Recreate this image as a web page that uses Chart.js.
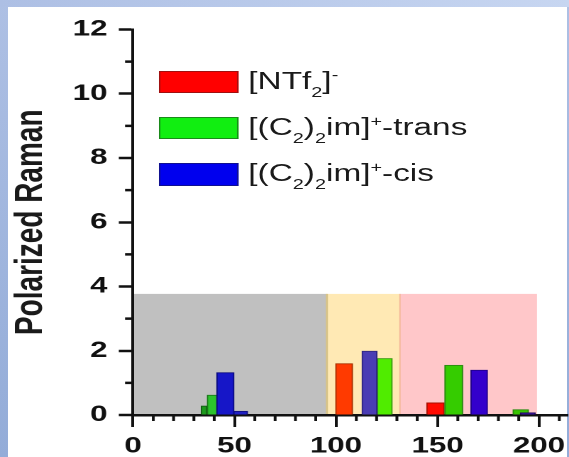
<!DOCTYPE html>
<html>
<head>
<meta charset="utf-8">
<script src="https://cdn.jsdelivr.net/npm/chart.js@4.4.1/dist/chart.umd.min.js"></script>
<style>
html,body{margin:0;padding:0;}
body{width:569px;height:457px;overflow:hidden;position:relative;background:linear-gradient(to bottom,#aec0e4,#93acd8);}
#topstrip{position:absolute;left:0;top:0;width:569px;height:7px;background:linear-gradient(to right,#adbfe4,#c7d6f1);}
#panel{position:absolute;left:8px;top:7px;width:559px;height:450px;background:#fff;}
#stage{position:absolute;left:0;top:0;width:401px;height:457px;transform:scaleX(1.41895);transform-origin:0 0;}
#chartbox{position:absolute;left:0;top:0;width:401px;height:457px;}
.leg{position:absolute;left:112.3px;width:56px;height:22.6px;box-sizing:border-box;border:1px solid;}
.lt{position:absolute;left:175px;font-family:'Liberation Sans',Arial,sans-serif;font-size:23.5px;color:#1a1a1a;line-height:23px;white-space:nowrap;}
.lt .sb{position:relative;top:8px;font-size:14px;}
.lt .sp{position:relative;top:-9px;font-size:14px;}
</style>
</head>
<body>
<div id="topstrip"></div>
<div id="panel"></div>
<div id="stage">
  <div id="chartbox"><canvas id="c"></canvas></div>
  <div id="legend"></div>
</div>
<script>
// ---- data ----
const seriesNames = [
  '[NTf<span class="sb">2</span>]<span class="sp">-</span>',
  '[(C<span class="sb">2</span>)<span class="sb">2</span>im]<span class="sp">+</span>-trans',
  '[(C<span class="sb">2</span>)<span class="sb">2</span>im]<span class="sp">+</span>-cis'
];
const ntf2X = [104, 149];
const ntf2Y = [1.6, 0.38];
const transX = [35, 39, 124, 158, 191];
const transY = [0.28, 0.62, 1.76, 1.55, 0.17];
const cisX = [45.5, 53, 116.5, 170.5, 194.5];
const cisY = [1.32, 0.12, 1.99, 1.4, 0.07];
const regionEdges = [0, 95.5, 131.5, 199];
const regionTop = 3.77;
const xLabelValues = [0, 50, 100, 150, 200];
const yLabelValues = [0, 2, 4, 6, 8, 10, 12];
const yTitle = 'Polarized Raman';

// ---- styles ----
const ntf2Fill = ['#ff3a00', '#ff0a00'];
const ntf2Edge = ['#a83000', '#a81000'];
const ntf2W = [12, 12.4];
const transFill = ['#1d9a1d', '#2cc42c', '#50ec00', '#35cc00', '#38c400'];
const transEdge = ['#156015', '#1a7a1a', '#3a9a10', '#2a8a10', '#2a8a10'];
const transW = [4, 7, 10.6, 12.7, 11];
const cisFill = ['#1616c8', '#2020c4', '#4a3cb4', '#3300cc', '#36109a'];
const cisEdge = ['#0c0c80', '#101080', '#302680', '#20008a', '#200860'];
const cisW = [12.2, 9.9, 10.6, 11.8, 10.6];
const legendFill = ['#ff0000', '#11ee11', '#0000ee'];
const legendEdge = ['#a01010', '#1a8a1a', '#101090'];
const regionFill = ['#c0c0c0', '#ffe9b4', '#ffc7c9'];
const FONT = "'Liberation Sans', Arial, sans-serif";

// legend (HTML, real text)
const legend = document.getElementById('legend');
seriesNames.forEach((n, i) => {
  const top = 70.7 + i * 46.2;
  const b = document.createElement('div');
  b.className = 'leg';
  b.style.top = top + 'px';
  b.style.background = legendFill[i];
  b.style.borderColor = legendEdge[i];
  legend.appendChild(b);
  const t = document.createElement('div');
  t.className = 'lt';
  t.style.top = (top - 0.9) + 'px';
  t.innerHTML = n;
  legend.appendChild(t);
});

// datasets: one per bar so each has its own width
const datasets = [];
function addSeries(xs, ys, fills, edges, widths, order) {
  xs.forEach((x, i) => {
    datasets.push({
      data: [{x: x, y: ys[i]}],
      backgroundColor: fills[i],
      borderColor: edges[i],
      borderWidth: 1,
      barThickness: widths[i],
      grouped: false,
      order: order
    });
  });
}
addSeries(ntf2X, ntf2Y, ntf2Fill, ntf2Edge, ntf2W, 2);
addSeries(transX, transY, transFill, transEdge, transW, 1);
addSeries(cisX, cisY, cisFill, cisEdge, cisW, 0);

const regions = {
  id: 'regions',
  beforeDraw(chart) {
    const {ctx, scales: {x, y}} = chart;
    const yt = y.getPixelForValue(regionTop);
    const yb = y.getPixelForValue(0);
    ctx.save();
    for (let i = 0; i < regionEdges.length - 1; i++) {
      const x0 = x.getPixelForValue(regionEdges[i]);
      const x1 = x.getPixelForValue(regionEdges[i + 1]);
      ctx.fillStyle = regionFill[i];
      ctx.fillRect(x0, yt, x1 - x0, yb - yt);
    }
    const a = x.getPixelForValue(regionEdges[1]);
    const b = x.getPixelForValue(regionEdges[2]);
    ctx.lineWidth = 1.5;
    ctx.strokeStyle = '#d8c488';
    ctx.beginPath(); ctx.moveTo(a, yt); ctx.lineTo(a, yb); ctx.stroke();
    ctx.lineWidth = 1;
    ctx.strokeStyle = '#f4b89a';
    ctx.beginPath(); ctx.moveTo(b, yt); ctx.lineTo(b, yb); ctx.stroke();
    ctx.restore();
  }
};

const minorTicks = {
  id: 'minorTicks',
  afterDraw(chart) {
    const {ctx, scales: {x, y}, chartArea} = chart;
    ctx.save();
    ctx.strokeStyle = '#111';
    ctx.lineWidth = 2;
    x.ticks.forEach(t => {
      if (!xLabelValues.includes(t.value)) {
        const p = x.getPixelForValue(t.value);
        ctx.beginPath(); ctx.moveTo(p, chartArea.bottom); ctx.lineTo(p, chartArea.bottom + 6); ctx.stroke();
      }
    });
    ctx.lineWidth = 2.5;
    y.ticks.forEach(t => {
      if (!yLabelValues.includes(t.value)) {
        const p = y.getPixelForValue(t.value);
        ctx.beginPath(); ctx.moveTo(chartArea.left, p); ctx.lineTo(chartArea.left - 5.6, p); ctx.stroke();
      }
    });
    ctx.restore();
  }
};

new Chart(document.getElementById('c'), {
  type: 'bar',
  data: {datasets: datasets},
  plugins: [regions, minorTicks],
  options: {
    responsive: true,
    maintainAspectRatio: false,
    animation: false,
    devicePixelRatio: 2,
    layout: {padding: {top: 29.5, right: 1.1, bottom: 0, left: 0}},
    plugins: {legend: {display: false}, tooltip: {enabled: false}},
    scales: {
      x: {
        type: 'linear', min: 0, max: 214, offset: false, z: 1,
        grid: {offset: false, drawOnChartArea: false, drawTicks: true, tickLength: 12, tickWidth: 2,
          tickColor: c => (c.tick && xLabelValues.includes(c.tick.value)) ? '#111' : 'rgba(0,0,0,0)'},
        border: {display: true, color: '#111', width: 2.5},
        ticks: {stepSize: 10, includeBounds: false, autoSkip: false, maxRotation: 0, minRotation: 0, padding: 6,
          color: '#111', font: {family: FONT, size: 22, weight: 'bold'},
          callback: v => xLabelValues.includes(v) ? String(v) : ''},
        afterFit: s => { s.height = 42; }
      },
      y: {
        type: 'linear', min: 0, max: 12, z: 1,
        grid: {drawOnChartArea: false, drawTicks: true, tickLength: 10, tickWidth: 2.5,
          tickColor: c => (c.tick && yLabelValues.includes(c.tick.value)) ? '#111' : 'rgba(0,0,0,0)'},
        border: {display: true, color: '#111', width: 2},
        ticks: {stepSize: 1, autoSkip: false, padding: 8, color: '#111',
          font: {family: FONT, size: 22, weight: 'bold'},
          callback: v => yLabelValues.includes(v) ? String(v) : ''},
        title: {display: true, text: yTitle, color: '#1a1a1a',
          font: {family: FONT, size: 28, weight: 'bold'}, padding: {top: 5, bottom: 0}},
        afterFit: s => { s.width = 93.73; }
      }
    }
  }
});
</script>
</body>
</html>
